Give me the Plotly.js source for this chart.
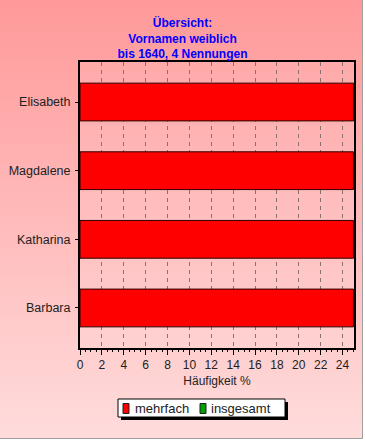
<!DOCTYPE html>
<html>
<head>
<meta charset="utf-8">
<script src="https://cdn.plot.ly/plotly-3.0.1.min.js"></script>
<style>
  html, body { margin: 0; padding: 0; background: #ffffff; }
  #frame {
    position: absolute; left: 0; top: 0;
    width: 362px; height: 438px;
    background: linear-gradient(to bottom, #ff9999 0%, #ffdcdc 100%);
    border-right: 1px solid #a0a0a0; border-bottom: 1px solid #a0a0a0;
  }
  #chart { position: absolute; left: 0; top: 0; width: 365px; height: 441px; }
</style>
</head>
<body>
<div id="frame"></div>
<div id="chart"></div>
<script>
// Data
const names = ["Elisabeth", "Magdalene", "Katharina", "Barbara"];
const mehrfach = [25, 25, 25, 25];
const insgesamt = [null, null, null, null];
const seriesNames = ["mehrfach", "insgesamt"];
const seriesColors = ["#ff0000", "#00a000"];
const xTickVals = [0, 2, 4, 6, 8, 10, 12, 14, 16, 18, 20, 22, 24];
const titleText = "Übersicht:<br>Vornamen weiblich<br>bis 1640, 4 Nennungen";
const xTitle = "Häufigkeit %";

const W = 365, H = 441;
const M = { l: 80, r: 11, t: 62, b: 93 };

const seriesValues = [mehrfach, insgesamt];
const traces = seriesNames.map((nm, i) => ({
  type: "bar", orientation: "h", name: nm,
  y: names, x: seriesValues[i], width: 0.55,
  marker: { color: seriesColors[i], line: { color: "#2a0000", width: 1 } },
  hoverinfo: "skip", showlegend: false
}));

function px2x(p) { return (p - M.l) / (W - M.l - M.r); }
function py2y(p) { return (H - M.b - p) / (H - M.t - M.b); }

// Legend box (pixel layout)
const leg = { l: 118, t: 399, r: 285, b: 417, shadow: 3 };
const symX = [123, 200], txtX = [133, 208.5];
const shapes = [
  { type: "rect", xref: "paper", yref: "paper", layer: "above",
    x0: px2x(leg.l + leg.shadow), x1: px2x(leg.r + leg.shadow),
    y0: py2y(leg.b + leg.shadow), y1: py2y(leg.t + leg.shadow),
    fillcolor: "#000000", line: { width: 0 } },
  { type: "rect", xref: "paper", yref: "paper", layer: "above",
    x0: px2x(leg.l), x1: px2x(leg.r), y0: py2y(leg.b), y1: py2y(leg.t),
    fillcolor: "#ffffff", line: { color: "#000000", width: 1 } }
];
const annotations = [];
seriesNames.forEach((nm, i) => {
  shapes.push({ type: "rect", xref: "paper", yref: "paper", layer: "above",
    x0: px2x(symX[i]), x1: px2x(symX[i] + 6), y0: py2y(413.5), y1: py2y(403.5),
    fillcolor: seriesColors[i], line: { color: "#202020", width: 1 } });
  annotations.push({ text: nm, xref: "paper", yref: "paper", showarrow: false,
    x: px2x(txtX[i]), xanchor: "left", y: py2y(408.5), yanchor: "middle",
    font: { size: 13, color: "#222222" } });
});

const layout = {
  width: W, height: H,
  margin: M,
  paper_bgcolor: "rgba(0,0,0,0)",
  plot_bgcolor: "rgba(255,255,255,0.08)",
  barmode: "overlay",
  showlegend: false,
  font: { family: "Liberation Sans, Arial, sans-serif", size: 12, color: "#222222" },
  title: {
    text: titleText,
    font: { family: "Liberation Sans, Arial, sans-serif", size: 12, color: "#0000ff", weight: "bold" },
    x: 0.5, xref: "container", xanchor: "center",
    y: 1 - 27 / H, yref: "container", yanchor: "top"
  },
  xaxis: {
    range: [0, 25.05],
    tickvals: xTickVals,
    ticks: "outside", ticklen: 5, tickcolor: "#000000", tickwidth: 1,
    minor: { dtick: 0.5, ticks: "outside", ticklen: 2, tickcolor: "#000000", showgrid: false },
    showgrid: true, gridcolor: "#8a7070", gridwidth: 1, griddash: "4px,4px",
    showline: true, linecolor: "#000000", linewidth: 2, mirror: true,
    zeroline: false,
    tickfont: { size: 12, color: "#222222" },
    ticklabelstandoff: 0,
    title: { text: xTitle, font: { size: 12, color: "#222222" }, standoff: 5 }
  },
  yaxis: {
    type: "category",
    range: [3.583, -0.583],
    ticks: "outside", ticklen: 3, tickcolor: "#000000",
    showgrid: false,
    showline: true, linecolor: "#000000", linewidth: 2, mirror: true,
    tickfont: { size: 12.5, color: "#222222" },
    ticklabelstandoff: 2
  },
  shapes: shapes,
  annotations: annotations
};

Plotly.newPlot("chart", traces, layout, { displayModeBar: false, staticPlot: true });
</script>
</body>
</html>
